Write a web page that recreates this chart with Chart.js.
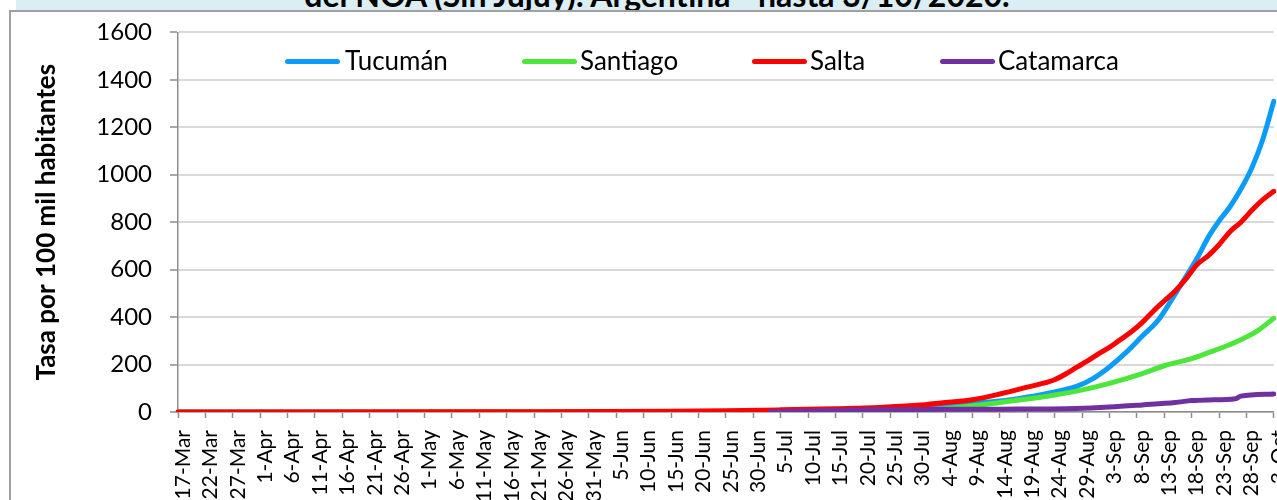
<!DOCTYPE html>
<html>
<head>
<meta charset="utf-8">
<script src="https://cdn.jsdelivr.net/npm/chart.js"></script>
<style>
html, body { margin: 0; padding: 0; width: 1277px; height: 500px; overflow: hidden; background: #fff; font-family: Lato, sans-serif; }
#band { position: absolute; left: 16px; top: 0; width: 1300px; height: 10px; background: #daeef3; overflow: hidden; }
#band div { position: absolute; left: 0; width: 1282px; top: -21px; text-align: center; font-weight: bold; font-size: 32px; line-height: 32px; color: #000; white-space: nowrap; }
#frame { position: absolute; left: 9px; top: 10px; width: 1400px; height: 600px; border: 2px solid #a0a0a0; box-sizing: border-box; }
canvas { position: absolute; left: 0; top: 0; }
.leg-line { position: absolute; top: 59px; width: 55px; height: 5px; border-radius: 3px; }
.leg-text { position: absolute; top: 47px; font-size: 26px; line-height: 26px; white-space: nowrap; color: #000; }
</style>
</head>
<body>
<div id="frame"></div>
<div id="band"><div>del NOA (Sin Jujuy). Argentina - hasta 3/10/2020.</div></div>
<canvas id="chart" width="1311" height="540"></canvas>
<div id="legend"></div>
<script>
// one label per day, 17-Mar to 3-Oct 2020
const months = ['Jan', 'Feb', 'Mar', 'Apr', 'May', 'Jun', 'Jul', 'Aug', 'Sep', 'Oct', 'Nov', 'Dec'];
const categories = [];
for (let i = 0; i <= 200; i++) {
    const d = new Date(2020, 2, 17 + i);
    categories.push(d.getDate() + '-' + months[d.getMonth()]);
}

const yTicks = [0, 200, 400, 600, 800, 1000, 1200, 1400, 1600];

// [day index, rate]
const tucuman = [[0, 0], [40, 0], [80, 1], [100, 2], [110, 4], [120, 8], [128, 13], [135, 20], [140, 27], [146, 38],
    [152, 52], [158, 75], [162, 95], [164, 108], [167, 141], [170, 190], [173, 250], [176, 320], [179, 390], [181, 460],
    [183, 535], [186, 648], [188, 735], [190, 805], [192, 865], [194, 940], [196, 1030], [198, 1150], [200, 1310]];
const santiago = [[0, 0], [100, 0], [120, 1], [130, 3], [135, 6], [140, 14], [146, 28], [150, 40], [155, 55], [160, 72],
    [164, 88], [170, 121], [176, 162], [180, 195], [185, 225], [189, 258], [193, 294], [197, 342], [200, 395]];
const salta = [[0, 0], [60, 1], [90, 3], [100, 5], [110, 9], [120, 14], [128, 19], [135, 28], [140, 40], [145, 52],
    [150, 76], [155, 105], [160, 136], [162, 160], [164, 188], [166, 215], [168, 245], [170, 272], [172, 305], [174, 338],
    [176, 378], [178, 425], [180, 468], [182, 510], [184, 562], [186, 622], [188, 658], [190, 705], [192, 760], [194, 800],
    [196, 850], [198, 895], [200, 930]];
const catamarca = [[108, 0], [112, 3], [118, 6], [125, 9], [135, 11], [150, 12], [164, 15], [170, 21], [176, 30],
    [182, 40], [185, 48], [188, 51], [193, 56], [194, 67], [200, 76]];

const seriesNames = ['Tucumán', 'Santiago', 'Salta', 'Catamarca'];
const seriesColors = ['#0a9cf8', '#4ee63c', '#ff0000', '#7030a0'];
const legendSpots = [[285, 345], [522, 580], [752, 810], [940, 998]];

function toPoints(pairs) {
    return pairs.map(([d, v]) => ({ x: categories[d], y: v }));
}

Chart.defaults.font.family = 'Lato';
Chart.defaults.color = '#000';

const allSeries = [tucuman, santiago, salta, catamarca];
const datasets = allSeries.map((s, i) => ({
    label: seriesNames[i],
    data: toPoints(s),
    borderColor: seriesColors[i],
    backgroundColor: seriesColors[i],
    order: allSeries.length - i
}));

const chart = new Chart(document.getElementById('chart'), {
    type: 'line',
    data: { labels: categories, datasets: datasets },
    options: {
        responsive: false,
        animation: false,
        layout: { padding: { left: 34, top: 27, right: 26, bottom: 0 } },
        plugins: { legend: { display: false }, tooltip: { enabled: false } },
        elements: {
            point: { radius: 0 },
            line: { borderWidth: 5, borderCapStyle: 'round', borderJoinStyle: 'round', cubicInterpolationMode: 'monotone' }
        },
        scales: {
            x: {
                offset: false,
                grid: {
                    drawOnChartArea: false,
                    tickLength: 6,
                    tickWidth: 1.5,
                    tickColor: c => c.index % 5 === 0 ? '#8c8c8c' : 'rgba(0,0,0,0)'
                },
                border: { color: '#8c8c8c', width: 1.5 },
                ticks: {
                    autoSkip: false,
                    minRotation: 90,
                    maxRotation: 90,
                    labelOffset: 5,
                    padding: 12,
                    font: { size: 21 },
                    callback: (v, i) => i % 5 === 0 ? categories[i] : ''
                },
                afterFit: s => { s.height = 128; }
            },
            y: {
                min: yTicks[0],
                max: yTicks[yTicks.length - 1],
                afterBuildTicks: s => { s.ticks = yTicks.map(v => ({ value: v })); },
                ticks: { padding: 18, font: { size: 24 }, callback: v => String(v) },
                grid: { color: '#d9d9d9', lineWidth: 2, tickColor: '#8c8c8c', tickLength: 8, tickWidth: 1.5 },
                border: { color: '#8c8c8c', width: 1.5 },
                title: {
                    display: true,
                    text: 'Tasa por 100 mil habitantes',
                    font: { size: 26, weight: 'bold', lineHeight: 1 },
                    padding: 0
                },
                afterFit: s => { s.width = 144; }
            }
        }
    }
});

// legend drawn inside the plot, as in the original
const legend = document.getElementById('legend');
chart.data.datasets.forEach((ds, i) => {
    const line = document.createElement('div');
    line.className = 'leg-line';
    line.style.left = legendSpots[i][0] + 'px';
    line.style.background = ds.borderColor;
    const text = document.createElement('div');
    text.className = 'leg-text';
    text.style.left = legendSpots[i][1] + 'px';
    text.textContent = ds.label;
    legend.appendChild(line);
    legend.appendChild(text);
});
</script>
</body>
</html>
